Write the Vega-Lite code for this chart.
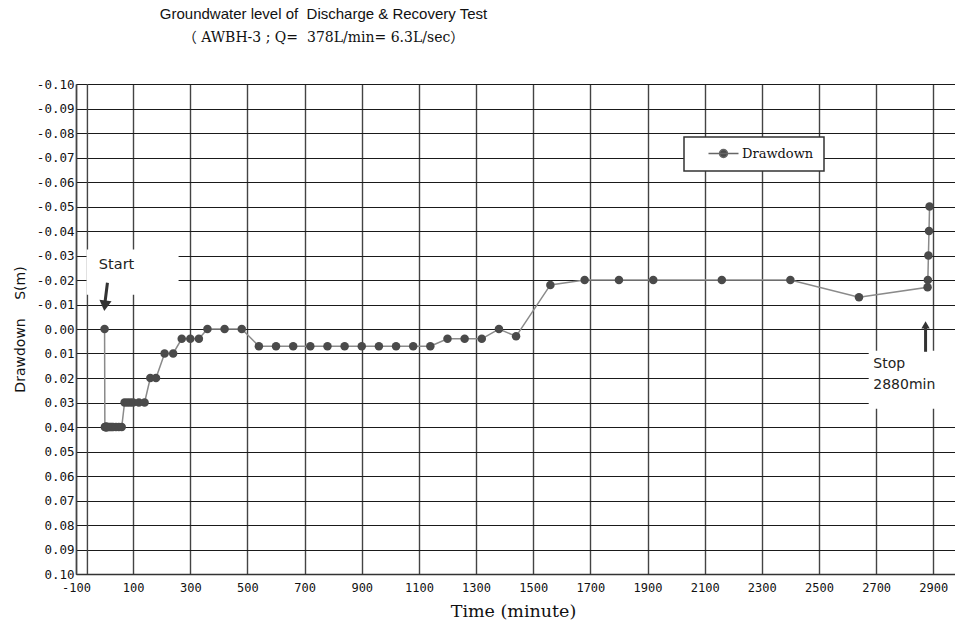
{
  "$schema": "https://vega.github.io/schema/vega-lite/v6.json",
  "autosize": {"type": "none"},
  "padding": {"left": 76, "top": 84, "right": 0, "bottom": 54},
  "width": 879,
  "height": 490,
  "background": "white",
  "title": {
    "text": "Groundwater level of\u00a0 Discharge & Recovery Test",
    "subtitle": "（ AWBH-3 ; Q=\u00a0 378L/min= 6.3L/sec）",
    "font": "Liberation Sans",
    "fontSize": 15,
    "fontWeight": "normal",
    "color": "#111111",
    "subtitleFont": "DejaVu Serif, Noto Sans CJK JP",
    "subtitleFontSize": 14,
    "subtitleColor": "#111111",
    "subtitlePadding": 9,
    "anchor": "middle",
    "dx": -192,
    "offset": 33
  },
  "datasets": {
    "drawdown": [
      {"t": 0, "s": 0.0},
      {"t": 1, "s": 0.04}, {"t": 2, "s": 0.04}, {"t": 3, "s": 0.04}, {"t": 4, "s": 0.04},
      {"t": 5, "s": 0.04}, {"t": 6, "s": 0.04}, {"t": 7, "s": 0.04}, {"t": 8, "s": 0.04},
      {"t": 9, "s": 0.04}, {"t": 10, "s": 0.04}, {"t": 15, "s": 0.04}, {"t": 20, "s": 0.04},
      {"t": 25, "s": 0.04}, {"t": 30, "s": 0.04}, {"t": 40, "s": 0.04}, {"t": 50, "s": 0.04},
      {"t": 60, "s": 0.04},
      {"t": 70, "s": 0.03}, {"t": 80, "s": 0.03}, {"t": 90, "s": 0.03}, {"t": 100, "s": 0.03},
      {"t": 120, "s": 0.03}, {"t": 140, "s": 0.03},
      {"t": 160, "s": 0.02}, {"t": 180, "s": 0.02},
      {"t": 210, "s": 0.01}, {"t": 240, "s": 0.01},
      {"t": 270, "s": 0.004}, {"t": 300, "s": 0.004}, {"t": 330, "s": 0.004},
      {"t": 360, "s": 0.0}, {"t": 420, "s": 0.0}, {"t": 480, "s": 0.0},
      {"t": 540, "s": 0.007}, {"t": 600, "s": 0.007}, {"t": 660, "s": 0.007}, {"t": 720, "s": 0.007},
      {"t": 780, "s": 0.007}, {"t": 840, "s": 0.007}, {"t": 900, "s": 0.007}, {"t": 960, "s": 0.007},
      {"t": 1020, "s": 0.007}, {"t": 1080, "s": 0.007}, {"t": 1140, "s": 0.007},
      {"t": 1200, "s": 0.004}, {"t": 1260, "s": 0.004}, {"t": 1320, "s": 0.004},
      {"t": 1380, "s": 0.0}, {"t": 1440, "s": 0.003},
      {"t": 1560, "s": -0.018},
      {"t": 1680, "s": -0.02}, {"t": 1800, "s": -0.02}, {"t": 1920, "s": -0.02},
      {"t": 2160, "s": -0.02}, {"t": 2400, "s": -0.02},
      {"t": 2640, "s": -0.013},
      {"t": 2880, "s": -0.017},
      {"t": 2881, "s": -0.02}, {"t": 2883, "s": -0.03}, {"t": 2885, "s": -0.04}, {"t": 2887, "s": -0.05}
    ],
    "extraGrid": [{"t": -60, "s": -0.1, "s2": 0.1}],
    "boxes": [
      {"t": -63, "t2": 259, "s": -0.0325, "s2": -0.014},
      {"t": 2674, "t2": 2976, "s": 0.0089, "s2": 0.0325}
    ],
    "shafts": [
      {"t": 10, "t2": 1, "s": -0.0189, "s2": -0.0105},
      {"t": 2873, "t2": 2873, "s": 0.0093, "s2": -0.001}
    ],
    "startHead": [{"t": 1, "s": -0.0095}],
    "stopHead": [{"t": 2873, "s": -0.0017}],
    "startText": [{"t": 42, "s": -0.0262, "label": "Start"}],
    "stopText": [
      {"t": 2690, "s": 0.0142, "label": "Stop"},
      {"t": 2690, "s": 0.0228, "label": "2880min"}
    ]
  },
  "config": {
    "view": {"stroke": null},
    "legend": {"strokeWidth": 1.5}
  },
  "encoding": {
    "x": {
      "field": "t",
      "type": "quantitative",
      "scale": {"domain": [-100, 2976], "nice": false, "zero": false},
      "axis": {
        "title": "Time (minute)",
        "values": [-100, 100, 300, 500, 700, 900, 1100, 1300, 1500, 1700, 1900, 2100, 2300, 2500, 2700, 2900],
        "labelExpr": "datum.value < 0 ? '-' + format(-datum.value, 'd') : format(datum.value, 'd')",
        "grid": true,
        "gridColor": "#444444",
        "gridWidth": 1.4,
        "ticks": false,
        "labelFont": "DejaVu Sans Mono",
        "labelFontSize": 12,
        "labelColor": "#111111",
        "labelPadding": 8,
        "labelFlush": false,
        "labelOverlap": false,
        "domainColor": "#333333",
        "domainWidth": 1.5,
        "titleFont": "DejaVu Serif",
        "titleFontSize": 17.5,
        "titleFontWeight": "normal",
        "titleColor": "#111111",
        "titleX": 437,
        "titleY": 28,
        "titleBaseline": "top",
        "titleAlign": "center"
      }
    },
    "y": {
      "field": "s",
      "type": "quantitative",
      "scale": {"domain": [-0.1, 0.1], "reverse": true, "nice": false, "zero": false},
      "axis": {
        "title": "Drawdown　 S(m)",
        "values": [-0.1, -0.09, -0.08, -0.07, -0.06, -0.05, -0.04, -0.03, -0.02, -0.01, 0, 0.01, 0.02, 0.03, 0.04, 0.05, 0.06, 0.07, 0.08, 0.09, 0.1],
        "labelExpr": "datum.value < -0.0001 ? '-' + format(-datum.value, '.2f') : format(abs(datum.value), '.2f')",
        "grid": true,
        "gridColor": "#1a1a1a",
        "gridWidth": 1.1,
        "ticks": false,
        "labelPadding": 2,
        "labelFont": "DejaVu Sans Mono",
        "labelFontSize": 12.5,
        "labelColor": "#111111",
        "labelFlush": false,
        "labelOverlap": false,
        "domainColor": "#444444",
        "domainWidth": 1.5,
        "titleFont": "DejaVu Sans, Noto Sans CJK JP",
        "titleFontSize": 14,
        "titleFontWeight": "normal",
        "titleColor": "#111111",
        "titleX": -56,
        "titleY": 245,
        "titleAngle": 270,
        "titleAlign": "center",
        "titleBaseline": "middle"
      }
    }
  },
  "layer": [
    {
      "data": {"name": "extraGrid"},
      "mark": {"type": "rule", "color": "#444444", "strokeWidth": 1.4},
      "encoding": {"y2": {"field": "s2"}}
    },
    {
      "data": {"name": "boxes"},
      "mark": {"type": "rect", "color": "white"},
      "encoding": {"x2": {"field": "t2"}, "y2": {"field": "s2"}}
    },
    {
      "data": {"name": "drawdown"},
      "mark": {"type": "line", "color": "#8a8a8a", "strokeWidth": 1.5},
      "encoding": {}
    },
    {
      "data": {"name": "drawdown"},
      "mark": {"type": "point", "filled": true, "opacity": 1, "size": 72},
      "encoding": {
        "color": {
          "datum": "Drawdown",
          "type": "nominal",
          "scale": {"range": ["#4a4a4a"]},
          "legend": {
            "title": null,
            "orient": "none",
            "legendX": 608,
            "legendY": 53,
            "symbolType": "M-3,0L3,0M-0.8,0A0.8,0.8,0,1,1,0.8,0A0.8,0.8,0,1,1,-0.8,0Z",
            "symbolSize": 100,
            "symbolStrokeColor": "#666666",
            "symbolFillColor": "#4a4a4a",
            "symbolStrokeWidth": 1.5,
            "padding": 10,
            "symbolOffset": 23,
            "labelOffset": 12,
            "labelFont": "DejaVu Serif",
            "labelFontSize": 13,
            "labelColor": "#111111",
            "strokeColor": "#333333",
            "fillColor": "white"
          }
        }
      }
    },
    {
      "data": {"name": "shafts"},
      "mark": {"type": "rule", "color": "#333333", "strokeWidth": 3},
      "encoding": {"x2": {"field": "t2"}, "y2": {"field": "s2"}}
    },
    {
      "data": {"name": "startHead"},
      "mark": {"type": "point", "shape": "triangle-down", "filled": true, "color": "#333333", "opacity": 1, "size": 150, "angle": 7},
      "encoding": {}
    },
    {
      "data": {"name": "stopHead"},
      "mark": {"type": "point", "shape": "triangle-up", "filled": true, "color": "#333333", "opacity": 1, "size": 70},
      "encoding": {}
    },
    {
      "data": {"name": "startText"},
      "mark": {"type": "text", "font": "DejaVu Sans", "fontSize": 14.5, "color": "#222222", "align": "center", "baseline": "middle"},
      "encoding": {"text": {"field": "label"}}
    },
    {
      "data": {"name": "stopText"},
      "mark": {"type": "text", "font": "DejaVu Sans", "fontSize": 14, "color": "#222222", "align": "left", "baseline": "middle"},
      "encoding": {"text": {"field": "label"}}
    }
  ]
}
